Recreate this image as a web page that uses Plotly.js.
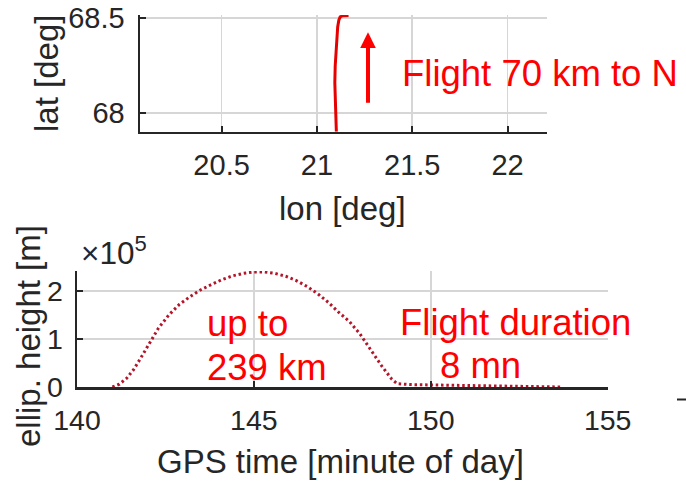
<!DOCTYPE html>
<html>
<head>
<meta charset="utf-8">
<script src="https://cdn.plot.ly/plotly-3.0.1.min.js"></script>
<style>html,body{margin:0;padding:0;background:#fff;}#chart{width:686px;height:482px;}</style>
</head>
<body>
<div id="chart"></div>
<script>
// Ground track (top panel)
const trackLon = [21.102, 21.100, 21.097, 21.094, 21.096, 21.100, 21.104, 21.109, 21.115, 21.122, 21.135, 21.166];
const trackLat = [67.903, 67.950, 68.050, 68.160, 68.250, 68.333, 68.400, 68.454, 68.490, 68.507, 68.513, 68.514];
const lonTicks = [20.5, 21, 21.5, 22];
const lonTickText = ['20.5', '21', '21.5', '22'];
const latTicks = [68, 68.5];
const latTickText = ['68', '68.5'];

// Ellipsoidal height vs GPS time (bottom panel), metres
const gpsTime = [141.0, 141.2, 141.4, 141.6, 141.8, 142.0, 142.3, 142.6, 142.9, 143.2, 143.5, 143.8, 144.1, 144.4, 144.7, 145.0, 145.3, 145.6, 145.9, 146.2, 146.5, 146.8, 147.1, 147.4, 147.7, 148.0, 148.3, 148.6, 148.9, 149.05, 149.4, 149.8, 150.3, 150.8, 151.3, 151.8, 152.3, 152.8, 153.3, 153.7];
const height = [0, 6000, 18000, 36000, 60000, 86000, 122000, 150000, 172000, 188000, 202000, 213000, 223000, 231000, 236000, 239000, 239000, 236000, 230000, 221000, 209000, 194000, 176000, 155000, 136000, 110000, 78000, 45000, 16000, 7000, 5000, 4500, 4000, 3500, 2500, 1500, 1000, 500, 200, 0];
const timeTicks = [140, 145, 150, 155];
const timeTickText = ['140', '145', '150', '155'];
const heightTicks = [0, 100000, 200000];
const heightTickText = ['0', '1', '2'];

const W = 686, H = 482;
const px = v => v / W;
const py = v => 1 - v / H;
const FONT = 'Liberation Sans, Arial, Helvetica, sans-serif';
const TXT = '#262626';
const RED = '#ff0000';

const axisCommon = {
  showline: true, linecolor: TXT, linewidth: 2.5,
  ticks: 'inside', ticklen: 6, tickwidth: 2, tickcolor: TXT,
  showgrid: true, gridcolor: '#d6d6d6', gridwidth: 1.6,
  zeroline: false, mirror: false, fixedrange: true
};

const traces = [
  {x: trackLon, y: trackLat, xaxis: 'x', yaxis: 'y', mode: 'lines',
   line: {color: '#e60000', width: 3}, hoverinfo: 'skip'},
  {x: gpsTime, y: height, xaxis: 'x2', yaxis: 'y2', mode: 'lines',
   line: {color: '#b3162a', width: 3, dash: '2.5px,2.8px'}, hoverinfo: 'skip'}
];

const layout = {
  width: W, height: H,
  margin: {l: 0, r: 0, t: 0, b: 0},
  paper_bgcolor: '#fff', plot_bgcolor: '#fff',
  showlegend: false,
  font: {family: FONT, color: TXT},
  xaxis: Object.assign({}, axisCommon, {
    domain: [px(140), px(547)], range: [20.072, 22.207], anchor: 'y',
    tickvals: lonTicks, ticktext: lonTickText,
    tickfont: {size: 29, color: TXT, family: FONT}, ticklabelstandoff: 6
  }),
  yaxis: Object.assign({}, axisCommon, {
    domain: [py(131.7), py(15)], range: [67.903, 68.517], anchor: 'x',
    tickvals: latTicks, ticktext: latTickText,
    tickfont: {size: 29, color: TXT, family: FONT}, ticklabelstandoff: 7
  }),
  xaxis2: Object.assign({}, axisCommon, {
    domain: [px(77), px(607.7)], range: [140, 155], anchor: 'y2',
    tickvals: timeTicks, ticktext: timeTickText,
    tickfont: {size: 28.5, color: TXT, family: FONT}, ticklabelstandoff: 6
  }),
  yaxis2: Object.assign({}, axisCommon, {
    domain: [py(387), py(271)], range: [0, 241000], anchor: 'x2',
    tickvals: heightTicks, ticktext: heightTickText,
    tickfont: {size: 28.5, color: TXT, family: FONT}, ticklabelstandoff: 6
  }),
  annotations: [
    {xref: 'paper', yref: 'paper', x: px(342), y: py(208), text: 'lon [deg]', showarrow: false,
     xanchor: 'center', yanchor: 'middle', font: {size: 33, color: TXT, family: FONT}},
    {xref: 'paper', yref: 'paper', x: px(46), y: py(74), text: 'lat [deg]', showarrow: false, textangle: -90,
     xanchor: 'center', yanchor: 'middle', font: {size: 33, color: TXT, family: FONT}},
    {xref: 'paper', yref: 'paper', x: px(340), y: py(461), text: 'GPS time [minute of day]', showarrow: false,
     xanchor: 'center', yanchor: 'middle', font: {size: 33, color: TXT, family: FONT}},
    {xref: 'paper', yref: 'paper', x: px(28), y: py(336), text: 'ellip. height [m]', showarrow: false, textangle: -90,
     xanchor: 'center', yanchor: 'middle', font: {size: 33, color: TXT, family: FONT}},
    {xref: 'paper', yref: 'paper', x: px(79), y: py(251), text: '×10<sup>5</sup>', showarrow: false,
     xanchor: 'left', yanchor: 'middle', font: {size: 31.5, color: TXT, family: FONT}},
    {xref: 'paper', yref: 'paper', x: px(400), y: py(73), text: 'Flight 70 km to N', showarrow: false,
     xanchor: 'left', yanchor: 'middle', font: {size: 36.5, color: RED, family: FONT}},
    {xref: 'paper', yref: 'paper', x: px(205), y: py(323), text: 'up to', showarrow: false,
     xanchor: 'left', yanchor: 'middle', font: {size: 36.5, color: RED, family: FONT}},
    {xref: 'paper', yref: 'paper', x: px(205), y: py(367), text: '239 km', showarrow: false,
     xanchor: 'left', yanchor: 'middle', font: {size: 36.5, color: RED, family: FONT}},
    {xref: 'paper', yref: 'paper', x: px(398), y: py(322), text: 'Flight duration', showarrow: false,
     xanchor: 'left', yanchor: 'middle', font: {size: 36.5, color: RED, family: FONT}},
    {xref: 'paper', yref: 'paper', x: px(438), y: py(365), text: '8 mn', showarrow: false,
     xanchor: 'left', yanchor: 'middle', font: {size: 36.5, color: RED, family: FONT}},
    {xref: 'x', yref: 'y', x: 21.268, y: 68.426, axref: 'x', ayref: 'y', ax: 21.268, ay: 68.047,
     text: '', showarrow: true, arrowhead: 2, arrowsize: 0.78, arrowwidth: 4, arrowcolor: RED, standoff: 0}
  ],
  shapes: [
    {type: 'line', xref: 'paper', yref: 'paper', x0: px(677), x1: px(686), y0: py(399.5), y1: py(399.5),
     line: {color: TXT, width: 2}}
  ]
};

Plotly.newPlot('chart', traces, layout, {displayModeBar: false, staticPlot: true});
</script>
</body>
</html>
